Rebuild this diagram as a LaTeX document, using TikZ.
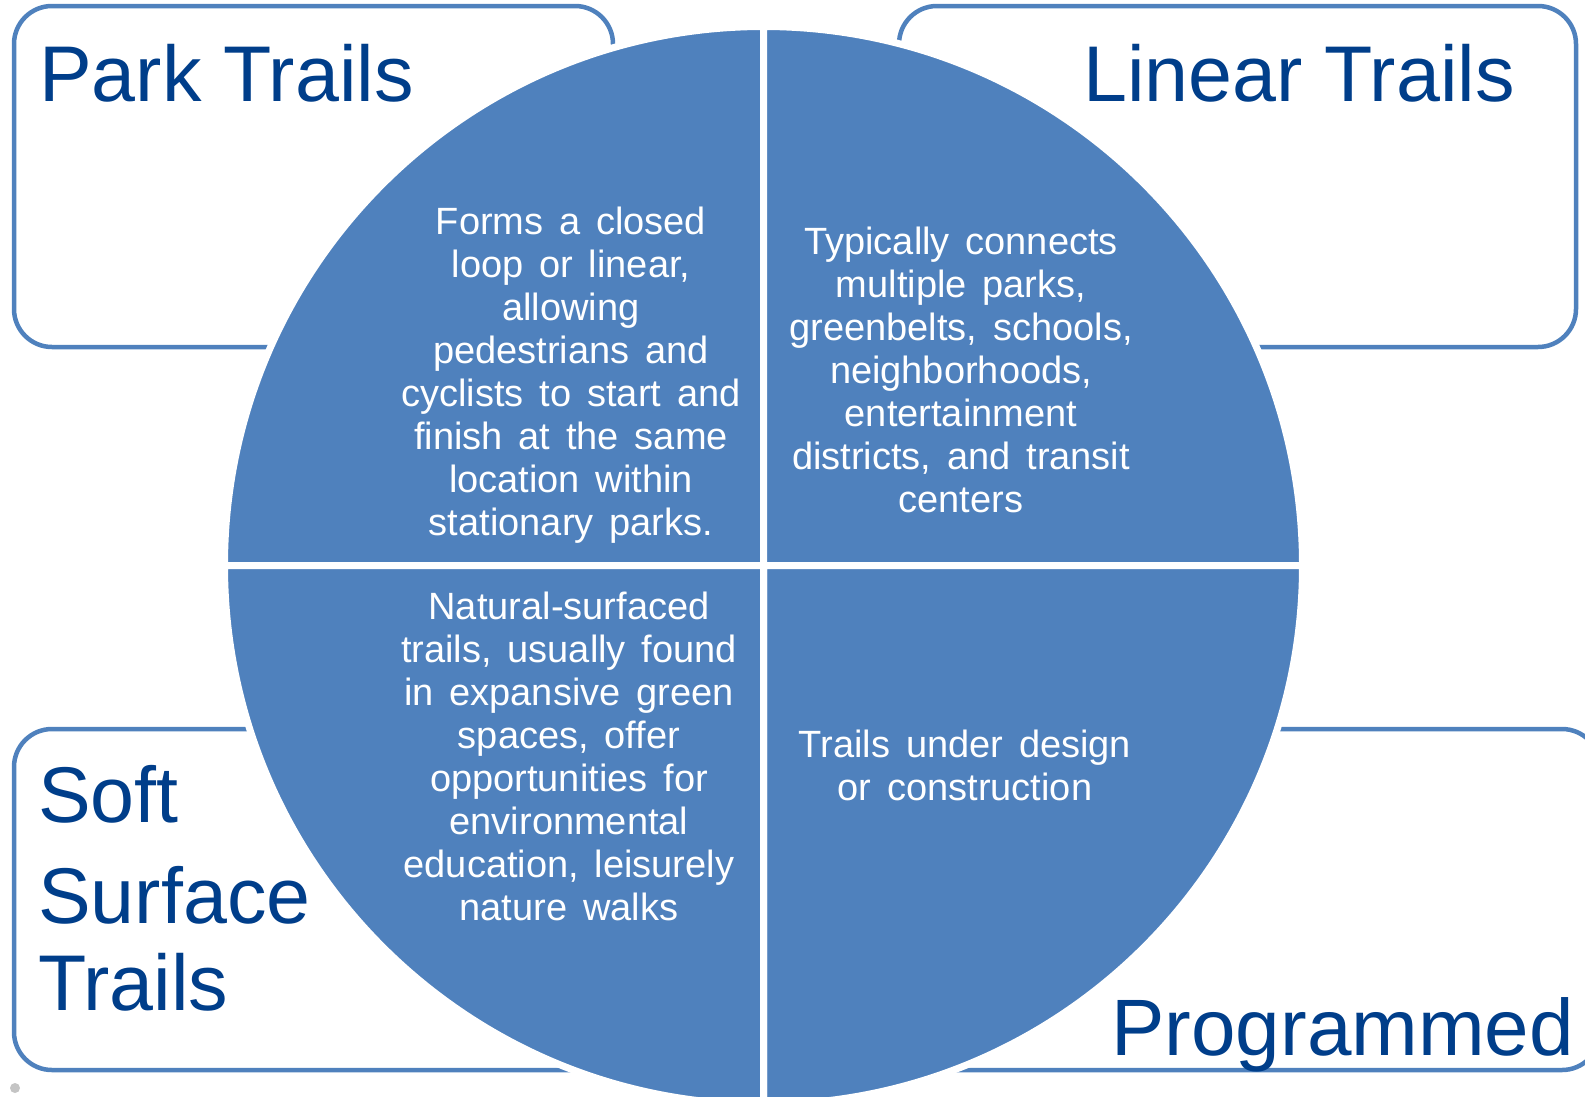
\documentclass[tikz,border=0pt]{standalone}
\usepackage{fontspec}
\setmainfont{Liberation Sans}
\newfontfamily\bodyfam[WordSpace=1.5]{Liberation Sans}
\definecolor{accent}{HTML}{4F81BD}
\definecolor{titleblue}{HTML}{003E8A}
\definecolor{dotgray}{HTML}{C4C4C4}
\begin{document}
\begin{tikzpicture}[x=1bp,y=-1bp,
  frame/.style={draw=accent, line width=4.5bp, rounded corners=38bp, fill=white},
  quad/.style={fill=accent, draw=white, line width=7bp, line join=miter},
  title/.style={text=titleblue, font=\fontsize{79bp}{87bp}\selectfont, inner sep=0pt},
  body/.style={text=white, font=\bodyfam\fontsize{38bp}{43bp}\selectfont, align=center, inner sep=0pt}]
\useasboundingbox (0,0) rectangle (1585,1096);
% corner frames
\draw[frame] (14,6) rectangle (613,347);
\draw[frame] (899,6) rectangle (1576,347);
\draw[frame] (14,729) rectangle (615,1070);
\draw[frame] (899,729) rectangle (1600,1070);
% circle quadrants
\coordinate (c) at (763.5,565.5);
\draw[quad] (c) -- ++(-539,0) arc (180:270:539) -- cycle;
\draw[quad] (c) -- ++(0,-539) arc (270:360:539) -- cycle;
\draw[quad] (c) -- ++(539,0) arc (0:90:539) -- cycle;
\draw[quad] (c) -- ++(0,539) arc (90:180:539) -- cycle;
% small grey dot
\fill[dotgray] (15,1088) circle (5);
% titles
\node[title, anchor=base west] (park) at (39,101) {Park Trails};
\node[title, anchor=base east] (linear) at (1515,101) {Linear Trails};
\node[title, anchor=base east, font=\fontsize{80bp}{87bp}\selectfont] (prog) at (1574,1055) {Programmed};
\node[title, anchor=north west, align=left] (soft) at (38,765) {Soft\\[14bp]Surface\\Trails};
% quadrant texts
\node[body] (tl) at (571,375) {Forms a closed\\loop or linear,\\allowing\\pedestrians and\\cyclists to start and\\finish at the same\\location within\\stationary parks.};
\node[body] (tr) at (961,370) {Typically connects\\multiple parks,\\greenbelts, schools,\\neighborhoods,\\entertainment\\districts, and transit\\centers};
\node[body] (bl) at (569,756) {Natural-surfaced\\trails, usually found\\in expansive green\\spaces, offer\\opportunities for\\environmental\\education, leisurely\\nature walks};
\node[body] (br) at (965,765) {Trails under design\\or construction};
\end{tikzpicture}
\end{document}
